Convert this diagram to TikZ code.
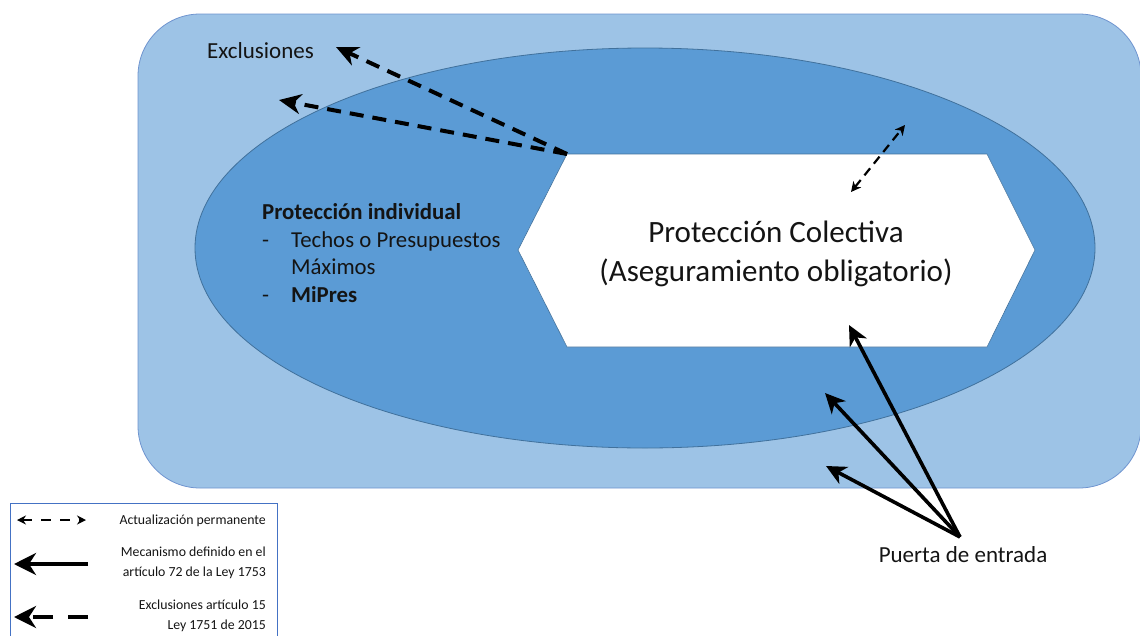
\documentclass[tikz,border=0pt]{standalone}
\usepackage{fontspec}
\setmainfont{Carlito}
\usetikzlibrary{arrows.meta,shapes.geometric}
\definecolor{outerfill}{HTML}{9DC3E6}
\definecolor{outerline}{HTML}{6F94CF}
\definecolor{ellfill}{HTML}{5B9BD5}
\definecolor{ellline}{HTML}{41719C}
\definecolor{legline}{HTML}{4472C4}
\definecolor{txt}{HTML}{141414}
\begin{document}
\begin{tikzpicture}[x=1pt,y=-1pt,
  every node/.style={text=txt},
  solidarrow/.style={line width=3.6pt,-{Stealth[length=20pt,width=19pt,inset=6pt]}},
  exarrow/.style={line width=4pt,dash pattern=on 14pt off 9pt,-{Stealth[length=22pt,width=20pt,inset=7pt]}},
  updarrow/.style={line width=2.2pt,dash pattern=on 9pt off 6pt,{Stealth[length=10pt,width=10pt,inset=3pt]}-{Stealth[length=10pt,width=10pt,inset=3pt]}},
  legsolid/.style={line width=4.5pt,-{Stealth[length=22pt,width=22pt,inset=7pt]}},
  legdash/.style={line width=4.5pt,dash pattern=on 20pt off 15pt,-{Stealth[length=22pt,width=22pt,inset=7pt]}},
  legupd/.style={line width=2.4pt,dash pattern=on 10pt off 9pt,{Stealth[length=9pt,width=9pt,inset=3pt]}-{Stealth[length=9pt,width=9pt,inset=3pt]}},
  legtext/.style={anchor=east,align=right,inner sep=0pt,font=\fontsize{13.8}{20}\selectfont},
]
\useasboundingbox (0,0) rectangle (1140,635);
% outer area
\node[draw=outerline,fill=outerfill,rounded corners=62pt,minimum width=1003pt,minimum height=474pt,inner sep=0pt,line width=0.8pt] (outer) at (639.5,251) {};
% ellipse
\node[ellipse,draw=ellline,fill=ellfill,minimum width=900pt,minimum height=400pt,inner sep=0pt,line width=0.8pt] (inner) at (645,248) {};
% hexagon
\coordinate (hTL) at (567,154);
\coordinate (hTR) at (987,154);
\coordinate (hR) at (1035,250);
\coordinate (hBR) at (987,347);
\coordinate (hBL) at (567,347);
\coordinate (hL) at (518,250);
\draw[fill=white,draw=ellline,line width=0.6pt] (hTL) -- (hTR) -- (hR) -- (hBR) -- (hBL) -- (hL) -- cycle;
\node[align=center,font=\fontsize{31}{39}\selectfont] (coltext) at (776,254) {Protección Colectiva\\(Aseguramiento obligatorio)};
% individual
\node[anchor=west,align=left,inner sep=0pt,font=\fontsize{22.8}{27.5}\selectfont] (indiv) at (262,253)
 {\textbf{Protección individual}\\\makebox[29pt][l]{-}Techos o Presupuestos\\\makebox[29pt][l]{}Máximos\\\makebox[29pt][l]{-}\textbf{MiPres}};
% exclusions
\node[anchor=west,inner sep=0pt,font=\fontsize{23}{26}\selectfont] (excl) at (207,51) {Exclusiones};
\coordinate (ex1) at (336,47);
\coordinate (ex2) at (279,100);
\draw[exarrow] (hTL) -- (ex1);
\draw[exarrow] (hTL) -- (ex2);
% update arrow
\coordinate (up1) at (851,192);
\coordinate (up2) at (905,125);
\draw[updarrow] (up1) -- (up2);
% entry
\node[font=\fontsize{23}{26}\selectfont] (puerta) at (963,555) {Puerta de entrada};
\coordinate (pO) at (960,537);
\coordinate (pa) at (849,325);
\coordinate (pb) at (825,393);
\coordinate (pc) at (826,466);
\draw[solidarrow] (pO) -- (pa);
\draw[solidarrow] (pO) -- (pb);
\draw[solidarrow] (pO) -- (pc);
% legend
\node[draw=legline,line width=0.8pt,minimum width=267pt,minimum height=145pt,inner sep=0pt,anchor=north west] (legend) at (10,503) {};
\coordinate (l1a) at (17,520);
\coordinate (l1b) at (86,520);
\draw[legupd] (l1a) -- (l1b);
\node[legtext] (lt1) at (266,521) {Actualización permanente};
\coordinate (l2a) at (88,564);
\coordinate (l2b) at (14,564);
\draw[legsolid] (l2a) -- (l2b);
\node[legtext] (lt2) at (266,563) {Mecanismo definido en el\\artículo 72 de la Ley 1753};
\coordinate (l3a) at (88,617);
\coordinate (l3b) at (14,617);
\draw[legdash] (l3a) -- (l3b);
\node[legtext] (lt3) at (266,616) {Exclusiones artículo 15\\Ley 1751 de 2015};
\end{tikzpicture}
\end{document}
